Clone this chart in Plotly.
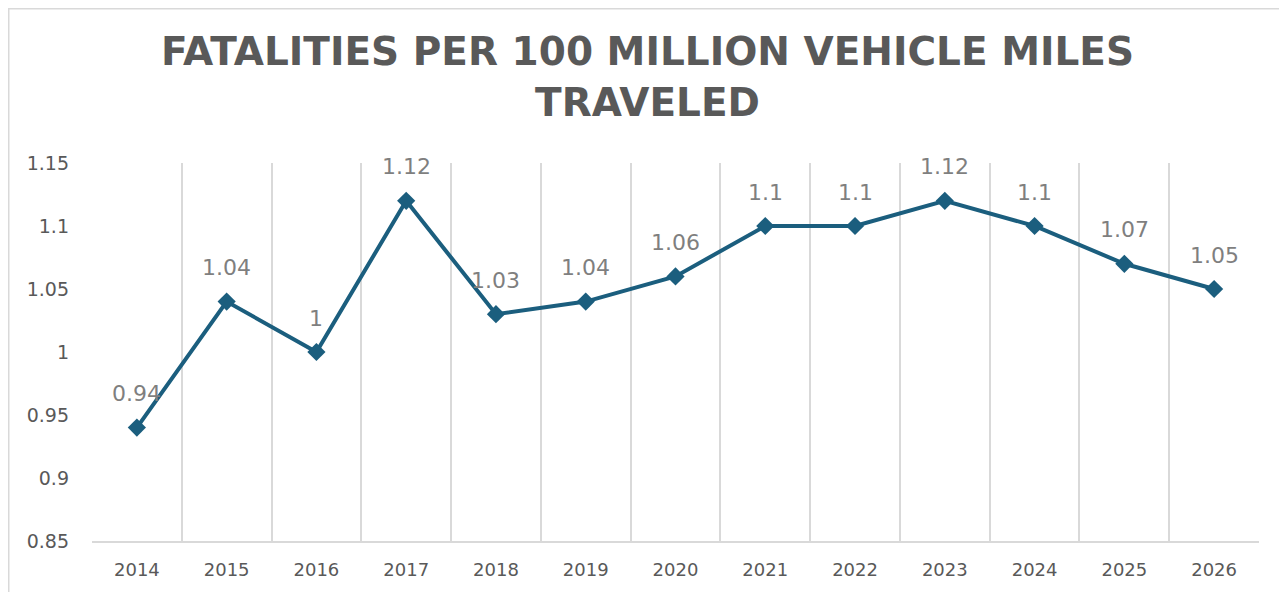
import plotly.graph_objects as go

years = ["2014", "2015", "2016", "2017", "2018", "2019", "2020",
         "2021", "2022", "2023", "2024", "2025", "2026"]
rates = [0.94, 1.04, 1.00, 1.12, 1.03, 1.04, 1.06,
         1.10, 1.10, 1.12, 1.10, 1.07, 1.05]
y_tick_vals = [0.85, 0.9, 0.95, 1.0, 1.05, 1.1, 1.15]
y_tick_text = ["0.85", "0.9", "0.95", "1", "1.05", "1.1", "1.15"]
title_text = "FATALITIES PER 100 MILLION VEHICLE MILES<br>TRAVELED"

LINE = "#1b5e7e"
FONT = "DejaVu Sans"
W, H = 1279, 584
L, R, T, B = 84, 28, 155, 51
PW, PH = W - L - R, H - T - B

fig = go.Figure()
fig.add_trace(go.Scatter(
    x=years, y=rates, mode="lines+markers",
    line=dict(color=LINE, width=4),
    marker=dict(symbol="diamond", size=14, color=LINE),
    hoverinfo="x+y", showlegend=False,
))

for i, v in enumerate(rates):
    fig.add_annotation(x=i, y=v, xref="x", yref="y", text=f"{v:g}", showarrow=False,
                       yshift=34, font=dict(size=22, color="#7f7f7f", family=FONT))

fig.update_layout(
    width=W, height=H,
    margin=dict(l=L, r=R, t=T, b=B),
    paper_bgcolor="white", plot_bgcolor="white",
    font=dict(family=FONT, color="#595959"),
    title=dict(text=title_text, x=0.5, xref="container", xanchor="center",
               y=1 - 57 / H, yref="container", yanchor="middle",
               font=dict(size=39, color="#595959", family=FONT, weight="bold")),
    xaxis=dict(type="category", tickson="boundaries", showgrid=True,
               gridcolor="#d9d9d9", gridwidth=1.5, showline=True,
               linecolor="#d9d9d9", linewidth=1.5, ticks="",
               tickfont=dict(size=18, color="#595959", family=FONT), ticklabelstandoff=12,
               range=[-0.5, 12.5], fixedrange=True),
    yaxis=dict(range=[0.85, 1.15], tickvals=y_tick_vals, ticktext=y_tick_text,
               showgrid=False, zeroline=False, showline=False, ticks="",
               tickfont=dict(size=19, color="#595959", family=FONT), ticklabelstandoff=22,
               fixedrange=True),
    shapes=[dict(type="rect", xref="paper", yref="paper",
                 x0=(0.75 - L) / PW, x1=(W + 20 - L) / PW,
                 y0=-(B + 20) / PH, y1=(PH + T - 0.75) / PH,
                 line=dict(color="#d9d9d9", width=1.5), fillcolor="rgba(0,0,0,0)",
                 layer="below")],
)

fig.write_html("out.html")
